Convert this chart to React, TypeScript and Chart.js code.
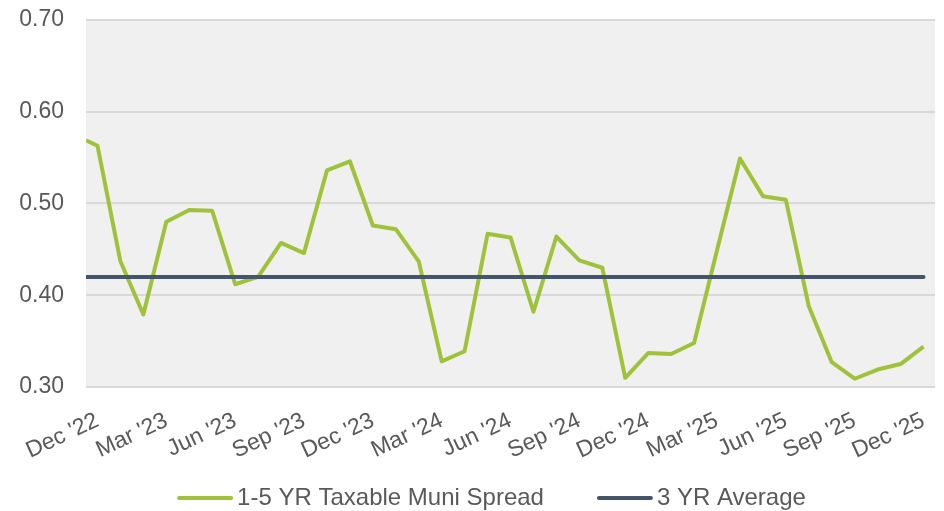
import React, { useEffect, useRef } from "react";
import { Chart, registerables } from "chart.js";

Chart.register(...registerables);

// Month offsets from Dec '22 (0) to Dec '25 (36); the first reading sits half a month before Dec '22
const monthOffsets = [
  -0.5, 0, 1, 2, 3, 4, 5, 6, 7, 8, 9, 10, 11, 12, 13, 14, 15, 16, 17, 18, 19,
  20, 21, 22, 23, 24, 25, 26, 27, 28, 29, 30, 31, 32, 33, 34, 35, 36,
];
const spreadValues = [
  0.569, 0.563, 0.437, 0.379, 0.48, 0.493, 0.492, 0.412, 0.42, 0.457, 0.446,
  0.536, 0.546, 0.476, 0.472, 0.437, 0.328, 0.339, 0.467, 0.463, 0.382, 0.464,
  0.438, 0.43, 0.31, 0.337, 0.336, 0.348, 0.449, 0.549, 0.508, 0.504, 0.388,
  0.327, 0.309, 0.319, 0.325, 0.344,
];
const averageOffsets = [-0.5, 36];
const averageValues = [0.42, 0.42];

const tickMonths = [0, 3, 6, 9, 12, 15, 18, 21, 24, 27, 30, 33, 36];
const tickLabels = [
  "Dec '22", "Mar '23", "Jun '23", "Sep '23", "Dec '23", "Mar '24", "Jun '24",
  "Sep '24", "Dec '24", "Mar '25", "Jun '25", "Sep '25", "Dec '25",
];
const seriesNames = ["1-5 YR Taxable Muni Spread", "3 YR Average"];
const seriesColors = ["#9EC33B", "#44546A"];

const FONT = '"Liberation Sans", Arial, sans-serif';
const TEXT_COLOR = "#595959";

const plotBackground = {
  id: "plotBackground",
  beforeDraw(chart: any) {
    const { ctx, chartArea } = chart;
    ctx.save();
    ctx.fillStyle = "#F0F0F0";
    ctx.fillRect(
      chartArea.left,
      chartArea.top,
      chartArea.right - chartArea.left,
      chartArea.bottom - chartArea.top
    );
    ctx.restore();
  },
};

const bottomLegend = {
  id: "bottomLegend",
  afterDraw(chart: any) {
    const { ctx } = chart;
    ctx.save();
    ctx.font = "24px " + FONT;
    const sample = 56;
    const gap = 4;
    const itemGap = 53;
    const widths = seriesNames.map((n) => ctx.measureText(n).width);
    const total =
      widths.reduce((a, w) => a + w + sample + gap, 0) +
      itemGap * (seriesNames.length - 1);
    let x = chart.width / 2 + 19.5 - total / 2;
    const y = 498;
    seriesNames.forEach((name, i) => {
      ctx.strokeStyle = seriesColors[i];
      ctx.lineWidth = 4;
      ctx.lineCap = "round";
      ctx.beginPath();
      ctx.moveTo(x + 2, y);
      ctx.lineTo(x + sample - 2, y);
      ctx.stroke();
      ctx.fillStyle = TEXT_COLOR;
      ctx.textBaseline = "middle";
      ctx.textAlign = "left";
      ctx.fillText(name, x + sample + gap, y);
      x += sample + gap + widths[i] + itemGap;
    });
    ctx.restore();
  },
};

export default function App() {
  const canvasRef = useRef<HTMLCanvasElement | null>(null);

  useEffect(() => {
    if (!canvasRef.current) return;
    const chart = new Chart(canvasRef.current, {
      type: "line",
      data: {
        datasets: [
          {
            label: seriesNames[0],
            data: monthOffsets.map((m, i) => ({ x: m, y: spreadValues[i] })),
            borderColor: seriesColors[0],
            backgroundColor: seriesColors[0],
            borderWidth: 4,
            pointRadius: 0,
            tension: 0,
            borderJoinStyle: "round",
            order: 1,
          },
          {
            label: seriesNames[1],
            data: averageOffsets.map((m, i) => ({ x: m, y: averageValues[i] })),
            borderColor: seriesColors[1],
            backgroundColor: seriesColors[1],
            borderWidth: 4,
            borderCapStyle: "round",
            pointRadius: 0,
            tension: 0,
            order: 0,
          },
        ],
      },
      options: {
        animation: false,
        responsive: true,
        maintainAspectRatio: false,
        layout: { padding: { left: 19, right: 9, top: 20, bottom: 0 } },
        plugins: {
          legend: { display: false },
          tooltip: { enabled: false },
        },
        scales: {
          x: {
            type: "linear",
            min: -0.5,
            max: 36.5,
            grid: { display: false, drawTicks: false },
            border: { display: false },
            afterBuildTicks: (axis: any) => {
              axis.ticks = tickMonths.map((v) => ({ value: v }));
            },
            afterFit: (scale: any) => {
              scale.height = 124;
              scale.paddingLeft = 0;
              scale.paddingRight = 0;
            },
            ticks: {
              autoSkip: false,
              minRotation: 25,
              maxRotation: 25,
              padding: 20,
              color: TEXT_COLOR,
              font: { family: FONT, size: 23 },
              callback: (v: any) => {
                const i = tickMonths.indexOf(Number(v));
                return i >= 0 ? tickLabels[i] : "";
              },
            },
          },
          y: {
            min: 0.3,
            max: 0.7,
            grid: { color: "#D9D9D9", lineWidth: 2, drawTicks: false },
            border: { display: false },
            afterFit: (scale: any) => {
              scale.width = 67;
              scale.paddingTop = 0;
              scale.paddingBottom = 0;
            },
            ticks: {
              stepSize: 0.1,
              padding: 22,
              color: TEXT_COLOR,
              font: { family: FONT, size: 23 },
              callback: (v: any) => Number(v).toFixed(2),
            },
          },
        },
      },
      plugins: [plotBackground, bottomLegend],
    });
    return () => chart.destroy();
  }, []);

  return (
    <div style={{ position: "absolute", left: 0, top: 0, width: 944, height: 511 }}>
      <canvas ref={canvasRef} />
    </div>
  );
}
